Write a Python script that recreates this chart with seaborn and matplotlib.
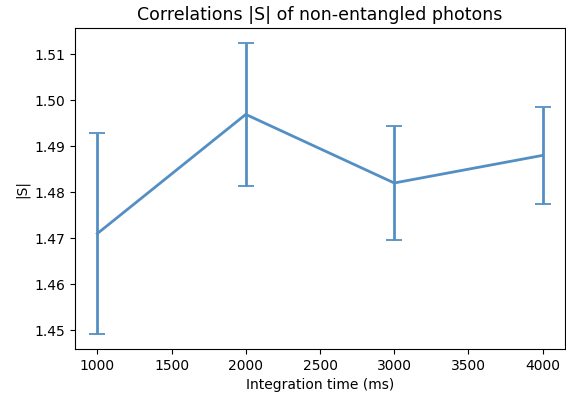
#!/usr/bin/env python3
'''
Correlations |S| of non-entangled photons vs integration time
'''
import matplotlib
matplotlib.use('Agg')
import matplotlib.pyplot as plt
import seaborn as sns
import pandas as pd

integration_time = [1000, 2000, 3000, 4000]
s_value = [1.4710, 1.4969, 1.4820, 1.4880]
s_error = [0.0219, 0.0156, 0.0124, 0.0105]

df = pd.DataFrame({'t': integration_time, 'S': s_value, 'err': s_error})

plt.rcParams['font.family'] = ['DejaVu Sans']
fig = plt.figure(figsize=(5.66, 3.95), dpi=100)
ax = fig.add_axes([75/566, 1-349/395, 490/566, (349-28)/395])

col = (84/255, 143/255, 196/255)
ax.errorbar(df['t'], df['S'], yerr=df['err'], fmt='none', ecolor=col, elinewidth=2, capsize=6, capthick=1.3)
sns.lineplot(data=df, x='t', y='S', ax=ax, color=col, linewidth=2)

ax.set_title("Correlations |S| of non-entangled photons", fontsize=12.5)
ax.set_xlabel("Integration time (ms)", fontsize=10)
ax.set_ylabel("|S|", fontsize=10)
ax.tick_params(labelsize=10)

fig.savefig('out.png', dpi=100)
